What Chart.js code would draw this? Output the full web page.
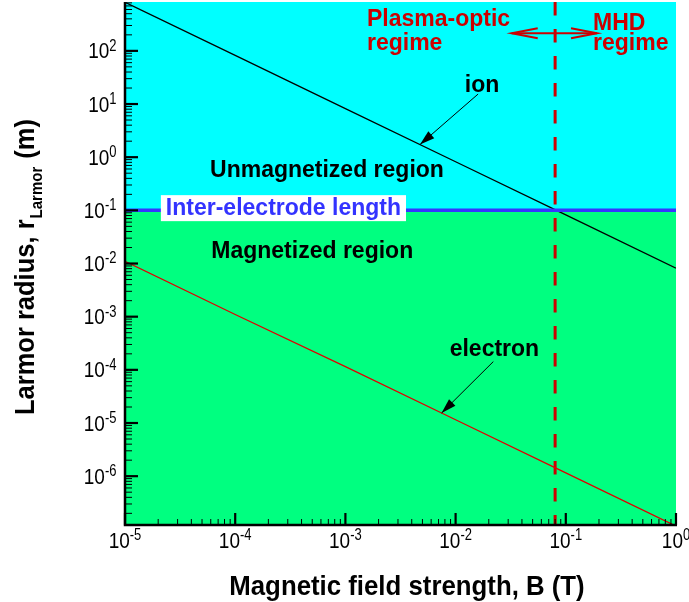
<!DOCTYPE html>
<html>
<head>
<meta charset="utf-8">
<script src="https://cdn.jsdelivr.net/npm/chart.js@4/dist/chart.umd.min.js"></script>
<style>
  html, body { margin: 0; padding: 0; background: #fff; overflow: hidden; }
  canvas { display: block; }
</style>
</head>
<body>
<canvas id="c" width="689" height="602"></canvas>
<script>
// Magnetic field strength B (T) and Larmor radii (m) at each decade
const fieldB = [1e-5, 1e-4, 1e-3, 1e-2, 1e-1, 1];
const ionRadius = [820, 82, 8.2, 0.82, 0.082, 0.0082];
const electronRadius = [1.1e-2, 1.1e-3, 1.15e-4, 1.15e-5, 1.15e-6, 1.15e-7];
const electrodeLength = 0.1;      // inter-electrode length (m)
const regimeBoundaryB = 0.08;     // plasma-optic / MHD boundary (T)
const xRange = [1e-5, 1];
const yRange = [1.26e-7, 830];
const xTickExponents = [-5, -4, -3, -2, -1, 0];
const yTickExponents = [-6, -5, -4, -3, -2, -1, 0, 1, 2];

const FONT = '"Liberation Sans", Arial, Helvetica, sans-serif';

const pts = (xs, ys) => xs.map((x, i) => ({ x, y: ys[i] }));
const flat = v => [{ x: xRange[0], y: v }, { x: xRange[1], y: v }];

// log-log interpolation along a series, used to aim the label arrows
function radiusAt(series, b) {
  const lb = Math.log10(b);
  for (let i = 0; i < fieldB.length - 1; i++) {
    const l0 = Math.log10(fieldB[i]), l1 = Math.log10(fieldB[i + 1]);
    if (lb >= l0 && lb <= l1) {
      const t = (lb - l0) / (l1 - l0);
      return Math.pow(10, Math.log10(series[i]) + t * (Math.log10(series[i + 1]) - Math.log10(series[i])));
    }
  }
  return series[series.length - 1];
}

function arrowHead(ctx, x0, y0, x1, y1, len, half) {
  const a = Math.atan2(y1 - y0, x1 - x0);
  ctx.beginPath();
  ctx.moveTo(x1, y1);
  ctx.lineTo(x1 - len * Math.cos(a) + half * Math.sin(a), y1 - len * Math.sin(a) - half * Math.cos(a));
  ctx.lineTo(x1 - len * Math.cos(a) - half * Math.sin(a), y1 - len * Math.sin(a) + half * Math.cos(a));
  ctx.closePath();
  ctx.fill();
}

function openHead(ctx, x0, y0, x1, y1, len, half) {
  const a = Math.atan2(y1 - y0, x1 - x0);
  ctx.beginPath();
  ctx.moveTo(x1 - len * Math.cos(a) + half * Math.sin(a), y1 - len * Math.sin(a) - half * Math.cos(a));
  ctx.lineTo(x1, y1);
  ctx.lineTo(x1 - len * Math.cos(a) - half * Math.sin(a), y1 - len * Math.sin(a) + half * Math.cos(a));
  ctx.stroke();
}

// "10" with a superscript exponent, glyphs drawn slightly tall
function powerLabel(ctx, exp, x, y, align) {
  const base = '10', sup = String(exp);
  ctx.font = '19px ' + FONT;
  const wb = ctx.measureText(base).width;
  ctx.font = '13px ' + FONT;
  const ws = ctx.measureText(sup).width;
  let left = x;
  if (align === 'right') left = x - wb - ws;
  else if (align === 'center') left = x - (wb + ws) / 2;
  ctx.save();
  ctx.translate(left, y);
  ctx.scale(1, 1.2);
  ctx.textAlign = 'left';
  ctx.textBaseline = 'alphabetic';
  ctx.fillStyle = '#000';
  ctx.font = '19px ' + FONT;
  ctx.fillText(base, 0, 0);
  ctx.font = '13px ' + FONT;
  ctx.fillText(sup, wb, -6.3);
  ctx.restore();
}

const decorations = {
  id: 'decorations',
  afterDraw(chart) {
    const ctx = chart.ctx;
    const xs = chart.scales.x, ys = chart.scales.y;
    const area = chart.chartArea;
    const X = v => xs.getPixelForValue(v), Y = v => ys.getPixelForValue(v);

    ctx.save();

    // white label box over the electrode-length line
    const boxY = Y(electrodeLength * 1.1);
    ctx.font = 'bold 23px ' + FONT;
    const iel = 'Inter-electrode length';
    const ielW = ctx.measureText(iel).width;
    const ielX = X(2.74e-4);
    ctx.fillStyle = '#fff';
    ctx.fillRect(ielX - ielW / 2 - 5, boxY - 13, ielW + 10, 26);
    ctx.fillStyle = '#3333ff';
    ctx.textAlign = 'center';
    ctx.textBaseline = 'middle';
    ctx.fillText(iel, ielX, boxY + 1);

    // region labels
    ctx.fillStyle = '#000';
    ctx.fillText('Unmagnetized region', X(6.8e-4), Y(0.55));
    ctx.fillText('Magnetized region', X(5e-4), Y(0.0164));

    // ion / electron labels with arrows
    ctx.textBaseline = 'alphabetic';
    ctx.fillText('ion', X(0.0174), Y(16.8));
    ctx.fillText('electron', X(0.0225), Y(1.82e-4));

    ctx.strokeStyle = '#000';
    ctx.lineWidth = 1;
    const ionTipB = 4.75e-3, eTipB = 7.46e-3;
    let x0 = X(0.016), y0 = Y(15.4), x1 = X(ionTipB), y1 = Y(radiusAt(ionRadius, ionTipB));
    ctx.beginPath(); ctx.moveTo(x0, y0); ctx.lineTo(x1, y1); ctx.stroke();
    arrowHead(ctx, x0, y0, x1, y1, 15, 4.5);
    x0 = X(0.022); y0 = Y(1.43e-4); x1 = X(eTipB); y1 = Y(radiusAt(electronRadius, eTipB));
    ctx.beginPath(); ctx.moveTo(x0, y0); ctx.lineTo(x1, y1); ctx.stroke();
    arrowHead(ctx, x0, y0, x1, y1, 15, 4.5);

    // regime labels and double arrow
    ctx.fillStyle = '#cc0000';
    ctx.textAlign = 'left';
    ctx.fillText('Plasma-optic', X(1.57e-3), Y(294));
    ctx.fillText('regime', X(1.57e-3), Y(106));
    ctx.fillText('MHD', X(0.1767), Y(247));
    ctx.fillText('regime', X(0.1767), Y(104));
    ctx.strokeStyle = '#cc0000';
    ctx.lineWidth = 2;
    const ay = Y(214), axl = X(0.0323), axr = X(0.192);
    ctx.beginPath(); ctx.moveTo(axl, ay); ctx.lineTo(axr, ay); ctx.stroke();
    openHead(ctx, axr, ay, axl, ay, 26, 5);
    openHead(ctx, axl, ay, axr, ay, 26, 5);

    // axes
    ctx.strokeStyle = '#000';
    ctx.fillStyle = '#000';
    ctx.lineWidth = 2.5;
    ctx.beginPath();
    ctx.moveTo(area.left, area.top);
    ctx.lineTo(area.left, area.bottom + 1);
    ctx.lineTo(area.right + 1, area.bottom + 1);
    ctx.stroke();

    // y ticks (inward)
    for (let e = -7; e <= 2; e++) {
      for (let m = 1; m <= 9; m++) {
        const v = m * Math.pow(10, e);
        if (v < yRange[0] || v > yRange[1]) continue;
        const p = Y(v);
        ctx.lineWidth = m === 1 ? 2.2 : 1;
        ctx.beginPath();
        ctx.moveTo(area.left, p);
        ctx.lineTo(area.left + (m === 1 ? 13 : 7), p);
        ctx.stroke();
      }
    }
    // x ticks (inward)
    for (let e = -5; e <= 0; e++) {
      for (let m = 1; m <= 9; m++) {
        const v = m * Math.pow(10, e);
        if (v < xRange[0] * 0.999 || v > xRange[1] * 1.001) continue;
        const p = X(v);
        ctx.lineWidth = m === 1 ? 2.2 : 1;
        ctx.beginPath();
        ctx.moveTo(p, area.bottom + 1);
        ctx.lineTo(p, area.bottom + 1 - (m === 1 ? 12 : 6));
        ctx.stroke();
      }
    }

    // tick labels
    yTickExponents.forEach(e => powerLabel(ctx, e, area.left - 8.5, Y(Math.pow(10, e)) + 7.5, 'right'));
    xTickExponents.forEach(e => powerLabel(ctx, e, X(Math.pow(10, e)), area.bottom + 24, 'center'));

    // axis titles
    ctx.fillStyle = '#000';
    ctx.textBaseline = 'alphabetic';
    ctx.save();
    ctx.translate(407, 595);
    ctx.scale(1, 1.1);
    ctx.textAlign = 'center';
    ctx.font = 'bold 25.8px ' + FONT;
    ctx.fillText('Magnetic field strength, B (T)', 0, 0);
    ctx.restore();

    ctx.save();
    ctx.translate(33.5, 415);
    ctx.rotate(-Math.PI / 2);
    ctx.scale(1, 1.1);
    ctx.textAlign = 'left';
    ctx.font = 'bold 25.5px ' + FONT;
    const t1 = 'Larmor radius, r';
    const w1 = ctx.measureText(t1).width;
    ctx.fillText(t1, 0, 0);
    ctx.font = 'bold 15px ' + FONT;
    const ts = 'Larmor';
    const wsub = ctx.measureText(ts).width;
    ctx.fillText(ts, w1 + 1, 7.5);
    ctx.font = 'bold 25.5px ' + FONT;
    ctx.fillText(' (m)', w1 + wsub + 2, 0);
    ctx.restore();

    ctx.restore();
  }
};

new Chart(document.getElementById('c'), {
  type: 'line',
  data: {
    datasets: [
      { label: 'unmagnetized', data: flat(electrodeLength), fill: 'end', backgroundColor: '#00ffff', borderWidth: 0, pointRadius: 0 },
      { label: 'magnetized', data: flat(electrodeLength), fill: 'start', backgroundColor: '#00ff80', borderWidth: 0, pointRadius: 0 },
      { label: 'Inter-electrode length', data: flat(electrodeLength), borderColor: '#3535ff', borderWidth: 3.5, pointRadius: 0, fill: false },
      { label: 'ion', data: pts(fieldB, ionRadius), borderColor: '#000000', borderWidth: 1.3, pointRadius: 0, fill: false },
      { label: 'electron', data: pts(fieldB, electronRadius), borderColor: '#e00000', borderWidth: 1.3, pointRadius: 0, fill: false },
      { label: 'regime boundary', data: [{ x: regimeBoundaryB, y: yRange[1] }, { x: regimeBoundaryB, y: yRange[0] }],
        borderColor: '#cc0000', borderWidth: 3, borderDash: [13.5, 13.5], pointRadius: 0, fill: false }
    ]
  },
  options: {
    responsive: false,
    animation: false,
    events: [],
    layout: { padding: { top: 2, right: 13, left: 0, bottom: 0 } },
    plugins: {
      legend: { display: false },
      tooltip: { enabled: false },
      filler: { drawTime: 'beforeDatasetsDraw' }
    },
    scales: {
      x: {
        type: 'logarithmic', min: xRange[0], max: xRange[1],
        ticks: { display: false }, grid: { display: false }, border: { display: false },
        afterFit(s) { s.height = 78; }
      },
      y: {
        type: 'logarithmic', min: yRange[0], max: yRange[1],
        ticks: { display: false }, grid: { display: false }, border: { display: false },
        afterFit(s) { s.width = 125; }
      }
    }
  },
  plugins: [decorations]
});
</script>
</body>
</html>
